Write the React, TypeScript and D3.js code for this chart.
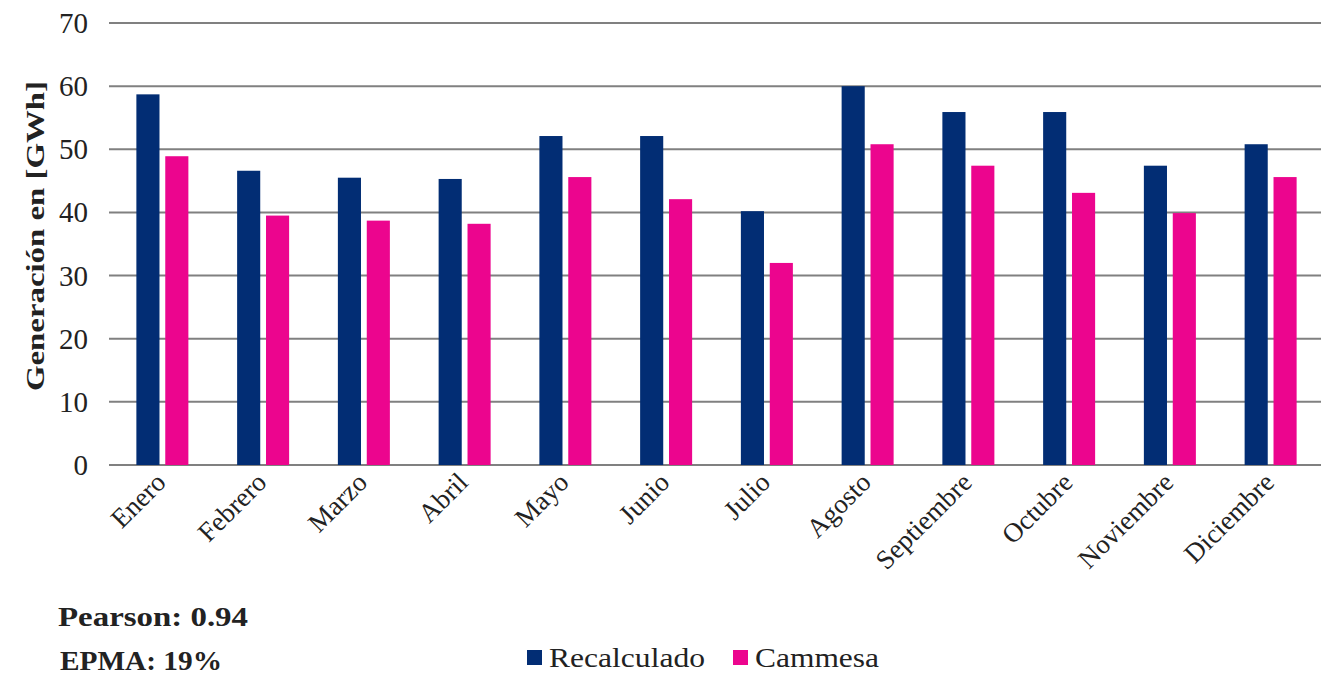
import React from "react";
import * as d3 from "d3";

const months = ["Enero","Febrero","Marzo","Abril","Mayo","Junio","Julio","Agosto","Septiembre","Octubre","Noviembre","Diciembre"];
const series = ["Recalculado","Cammesa"];
const recalculado = [58.7,46.6,45.5,45.3,52.1,52.1,40.2,60.0,55.9,55.9,47.4,50.8];
const cammesa = [48.9,39.5,38.7,38.2,45.6,42.1,32.0,50.8,47.4,43.1,39.9,45.6];
const yTicks = [0,10,20,30,40,50,60,70];
const colors = ["#022d74","#ec058e"];
const font = "'Liberation Serif', serif";

export default function App() {
  const W = 1323, H = 675;
  const y = d3.scaleLinear().domain([0,70]).range([465,23]);
  const x0 = d3.scaleBand().domain(months).range([112,1321]);
  const bw = x0.bandwidth();
  const x1 = d3.scaleBand().domain(series).range([bw/2-26, bw/2+26]).paddingInner(0.2);
  const data = [recalculado, cammesa];
  return (
    <svg width={W} height={H} style={{position:"absolute",left:0,top:0,background:"#fff"}}>
      {yTicks.map(t => (
        <g key={t}>
          <line x1={109} x2={1321} y1={y(t)} y2={y(t)} stroke="#808080" strokeWidth={2}/>
          <text x={88} y={y(t)+10} textAnchor="end" fontFamily={font} fontSize={29} fill="#222">{t}</text>
        </g>
      ))}
      {months.map((m,i) => (
        <g key={m}>
          {series.map((s,j) => (
            <rect key={s} x={(x0(m) as number)+(x1(s) as number)} width={x1.bandwidth()} y={y(data[j][i])} height={y(0)-y(data[j][i])} fill={colors[j]}/>
          ))}
          <text transform={`translate(${(x0(m) as number)+bw/2+5},${484}) rotate(-45)`} textAnchor="end" fontFamily={font} fontSize={27} fill="#222">{m}</text>
        </g>
      ))}
      <text transform="translate(44,236) rotate(-90)" textAnchor="middle" fontFamily={font} fontWeight="bold" fontSize={25} fill="#222" textLength={310} lengthAdjust="spacingAndGlyphs">Generación  en  [GWh]</text>
      <text x={58} y={626} fontFamily={font} fontWeight="bold" fontSize={27} fill="#222" textLength={190} lengthAdjust="spacingAndGlyphs">Pearson: 0.94</text>
      <text x={60} y={670} fontFamily={font} fontWeight="bold" fontSize={27} fill="#222" textLength={162} lengthAdjust="spacingAndGlyphs">EPMA: 19%</text>
      {series.map((s,j) => {
        const lx = j === 0 ? 527 : 733;
        const len = j === 0 ? 156 : 124;
        return (
          <g key={s}>
            <rect x={lx} y={650} width={15} height={15} fill={colors[j]}/>
            <text x={lx+22} y={667} fontFamily={font} fontSize={28} fill="#222" textLength={len} lengthAdjust="spacingAndGlyphs">{s}</text>
          </g>
        );
      })}
    </svg>
  );
}
